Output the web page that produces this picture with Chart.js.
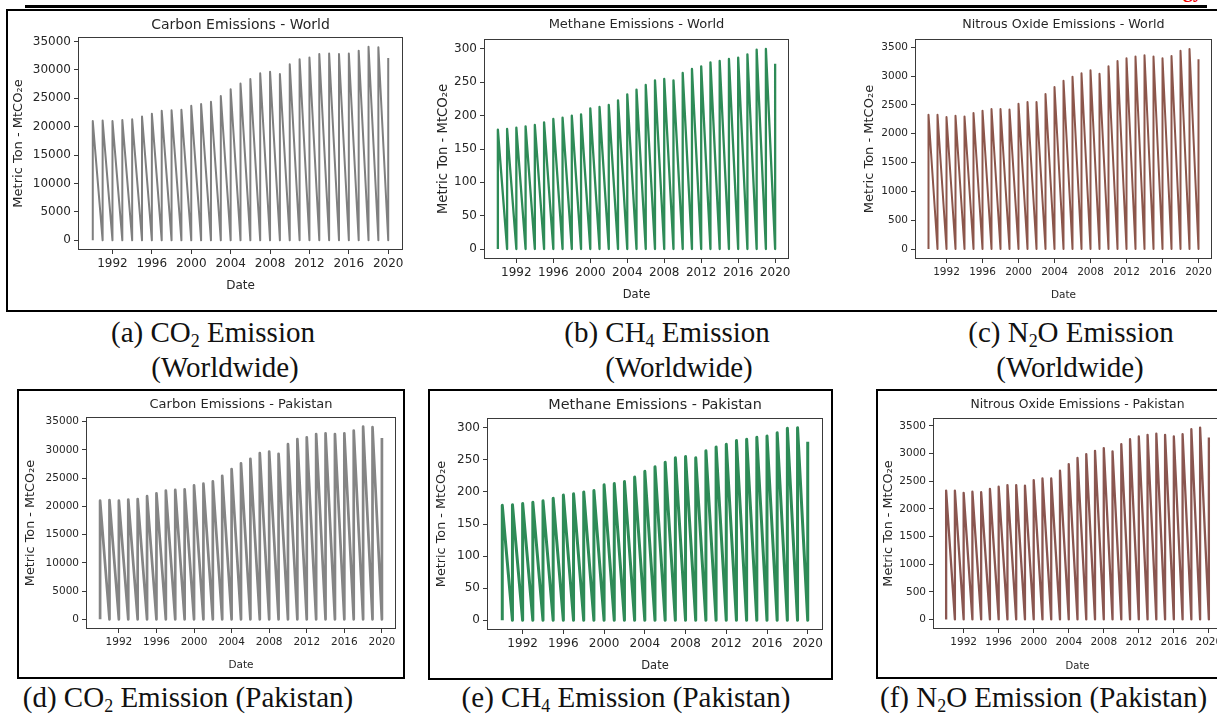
<!DOCTYPE html>
<html>
<head>
<meta charset="utf-8">
<script src="https://cdn.jsdelivr.net/npm/chart.js"></script>
<style>
  body { margin: 0; width: 1217px; height: 716px; overflow: hidden; background: #fff; position: relative; }
  .box { position: absolute; border: 2px solid #000; box-sizing: border-box; }
  .rule { position: absolute; background: #000; }
  canvas { position: absolute; }
  .cap { position: absolute; font-family: "Liberation Serif", serif; font-size: 29px; line-height: 29px; color: #111; white-space: nowrap; }
  .cap.c { width: 420px; text-align: center; }
  .cap sub { font-size: 0.62em; vertical-align: -0.28em; line-height: 0; }
  .head { position: absolute; right: 14px; top: -20px; font-family: "Liberation Serif", serif; font-weight: bold; font-size: 20px; line-height: 20px; color: #e00; }
</style>
</head>
<body>
<div class="head">Technology</div>
<div class="rule" style="left:25px; top:5px; width:1182px; height:3px;"></div>
<div class="box" style="left:6px; top:9px; width:1230px; height:303px;"></div>
<div class="box" style="left:17px; top:389px; width:388px; height:290px;"></div>
<div class="box" style="left:428px; top:389px; width:405px; height:291px;"></div>
<div class="box" style="left:876px; top:389px; width:360px; height:290px;"></div>

<div class="cap c" style="left:3px; top:318px;">(a) CO<sub>2</sub> Emission</div>
<div class="cap c" style="left:15px; top:353px;">(Worldwide)</div>
<div class="cap c" style="left:457px; top:318px;">(b) CH<sub>4</sub> Emission</div>
<div class="cap c" style="left:469px; top:353px;">(Worldwide)</div>
<div class="cap c" style="left:861px; top:318px;">(c) N<sub>2</sub>O Emission</div>
<div class="cap c" style="left:860px; top:353px;">(Worldwide)</div>
<div class="cap c" style="left:-22px; top:683px;">(d) CO<sub>2</sub> Emission (Pakistan)</div>
<div class="cap c" style="left:416px; top:683px;">(e) CH<sub>4</sub> Emission (Pakistan)</div>
<div class="cap" style="left:880px; top:683px;">(f) N<sub>2</sub>O Emission (Pakistan)</div>

<canvas id="co2World"></canvas>
<canvas id="ch4World"></canvas>
<canvas id="n2oWorld"></canvas>
<canvas id="co2Pak"></canvas>
<canvas id="ch4Pak"></canvas>
<canvas id="n2oPak"></canvas>

<script>
const years = [1990, 1991, 1992, 1993, 1994, 1995, 1996, 1997, 1998, 1999, 2000,
  2001, 2002, 2003, 2004, 2005, 2006, 2007, 2008, 2009, 2010,
  2011, 2012, 2013, 2014, 2015, 2016, 2017, 2018, 2019, 2020];

const co2World = [21000, 21100, 21000, 21200, 21300, 21800, 22300, 22800, 22900, 23000, 23700,
  24000, 24400, 25400, 26600, 27600, 28400, 29400, 29700, 29300, 31000,
  31900, 32200, 32800, 32900, 32800, 32900, 33400, 34100, 34000, 32100];
const ch4World = [179, 180, 182, 184, 186, 190, 195, 197, 200, 202, 211,
  213, 216, 223, 232, 239, 246, 253, 255, 253, 264,
  270, 274, 280, 282, 285, 287, 292, 299, 300, 278];
const n2oWorld = [2330, 2330, 2290, 2310, 2300, 2360, 2400, 2430, 2430, 2420, 2520,
  2550, 2550, 2690, 2810, 2920, 2990, 3050, 3100, 3040, 3170,
  3260, 3310, 3340, 3360, 3340, 3310, 3350, 3440, 3470, 3290];

const co2Pakistan = [21000, 21100, 21000, 21200, 21300, 21800, 22300, 22800, 22900, 23000, 23700,
  24000, 24400, 25400, 26600, 27600, 28400, 29400, 29700, 29300, 31000,
  31900, 32200, 32800, 32900, 32800, 32900, 33400, 34100, 34000, 32100];
const ch4Pakistan = [179, 180, 182, 184, 186, 190, 195, 197, 200, 202, 211,
  213, 216, 223, 232, 239, 246, 253, 255, 253, 264,
  270, 274, 280, 282, 285, 287, 292, 299, 300, 278];
const n2oPakistan = [2330, 2330, 2290, 2310, 2300, 2360, 2400, 2430, 2430, 2420, 2520,
  2550, 2550, 2690, 2810, 2920, 2990, 3050, 3100, 3040, 3170,
  3260, 3310, 3340, 3360, 3340, 3310, 3350, 3440, 3470, 3290];

const yearTicks = [1992, 1996, 2000, 2004, 2008, 2012, 2016, 2020];
const co2Ticks = [0, 5000, 10000, 15000, 20000, 25000, 30000, 35000];
const ch4Ticks = [0, 50, 100, 150, 200, 250, 300];
const n2oTicks = [0, 500, 1000, 1500, 2000, 2500, 3000, 3500];

const TXT = "#262626";
const SPINE = "#3a3a3a";

// each year: a zero row and a total row on the same date -> sawtooth
function sawtooth(vals) {
  return years.flatMap((yr, i) => [{ x: yr, y: 0 }, { x: yr, y: vals[i] }]);
}

const frame = {
  id: "frame",
  afterDraw(chart) {
    const a = chart.chartArea, ctx = chart.ctx;
    ctx.save();
    ctx.strokeStyle = SPINE;
    ctx.lineWidth = 1;
    ctx.strokeRect(Math.round(a.left) + 0.5, Math.round(a.top) + 0.5,
      Math.round(a.right - a.left) - 1, Math.round(a.bottom - a.top) - 1);
    ctx.restore();
  }
};

function makeChart(id, o) {
  const el = document.getElementById(id);
  const cl = Math.round(o.ylabelX - 4 - o.fonts.ylabel * 0.6);
  const ct = o.plot.t - 32;
  const w = o.plot.r - cl + 15;
  const h = o.plot.b - ct + 45;
  el.width = w; el.height = h;
  el.style.left = cl + "px"; el.style.top = ct + "px";
  el.style.width = w + "px"; el.style.height = h + "px";
  const tl = o.fonts.title * 1.2;
  const padTop = o.titleY - ct - tl / 2;
  const maxV = Math.max(...o.values);
  const tickGrid = { display: true, drawOnChartArea: false, drawTicks: true, tickLength: 4, color: SPINE, lineWidth: 1 };

  new Chart(el, {
    type: "line",
    data: {
      datasets: [{
        data: sawtooth(o.values),
        borderColor: o.color,
        borderWidth: o.lw,
        pointRadius: 0,
        tension: 0,
        borderJoinStyle: "round",
      }],
    },
    options: {
      responsive: false,
      animation: false,
      devicePixelRatio: 1,
      layout: { padding: { left: 0, right: 15, top: 0, bottom: 0 } },
      plugins: {
        legend: { display: false },
        tooltip: { enabled: false },
        title: {
          display: true,
          text: o.title,
          fullSize: false,
          color: TXT,
          font: { family: "DejaVu Sans", size: o.fonts.title, weight: "normal" },
          padding: { top: padTop, bottom: 32 - tl - padTop },
        },
      },
      scales: {
        x: {
          type: "linear",
          min: 1988.5,
          max: 2021.5,
          afterBuildTicks: (s) => { s.ticks = yearTicks.map((v) => ({ value: v })); },
          afterFit: (s) => { s.height = 45; },
          grid: tickGrid,
          border: { display: false },
          ticks: {
            color: TXT,
            padding: 3,
            maxRotation: 0,
            autoSkip: false,
            font: { family: "DejaVu Sans", size: o.fonts.tick },
            callback: (v) => String(v),
          },
          title: {
            display: true,
            text: "Date",
            color: TXT,
            font: { family: "DejaVu Sans", size: o.fonts.label },
            padding: { top: 4, bottom: 2 },
          },
        },
        y: {
          min: -0.05 * maxV,
          max: 1.05 * maxV,
          afterBuildTicks: (s) => { s.ticks = o.ticks.map((v) => ({ value: v })); },
          afterFit: (s) => { s.width = o.plot.l - cl; },
          grid: tickGrid,
          border: { display: false },
          ticks: {
            color: TXT,
            padding: 3,
            autoSkip: false,
            font: { family: "DejaVu Sans", size: o.fonts.tick },
            callback: (v) => String(v),
          },
          title: {
            display: true,
            text: "Metric Ton - MtCO₂e",
            color: TXT,
            font: { family: "DejaVu Sans", size: o.fonts.ylabel },
            padding: { top: 4, bottom: 2 },
          },
        },
      },
    },
    plugins: [frame],
  });
}

makeChart("co2World", {
  title: "Carbon Emissions - World", values: co2World, ticks: co2Ticks,
  color: "#7f7f7f", lw: 2, plot: { l: 78, t: 37, r: 403, b: 250 }, titleY: 25, ylabelX: 19,
  fonts: { title: 14, tick: 12, label: 12, ylabel: 13 },
});
makeChart("ch4World", {
  title: "Methane Emissions - World", values: ch4World, ticks: ch4Ticks,
  color: "#2e8b57", lw: 2.3, plot: { l: 484, t: 39, r: 789, b: 259 }, titleY: 25, ylabelX: 444,
  fonts: { title: 13, tick: 12, label: 11.5, ylabel: 13.2 },
});
makeChart("n2oWorld", {
  title: "Nitrous Oxide Emissions - World", values: n2oWorld, ticks: n2oTicks,
  color: "#8c564b", lw: 2, plot: { l: 915, t: 39, r: 1212, b: 259 }, titleY: 25, ylabelX: 870,
  fonts: { title: 12.7, tick: 10.5, label: 10.5, ylabel: 13 },
});
makeChart("co2Pak", {
  title: "Carbon Emissions - Pakistan", values: co2Pakistan, ticks: co2Ticks,
  color: "#858585", lw: 2.7, plot: { l: 86, t: 417, r: 396, b: 629 }, titleY: 405, ylabelX: 31,
  fonts: { title: 13, tick: 10.5, label: 10.5, ylabel: 12.8 },
});
makeChart("ch4Pak", {
  title: "Methane Emissions - Pakistan", values: ch4Pakistan, ticks: ch4Ticks,
  color: "#2e8b57", lw: 3, plot: { l: 487, t: 418, r: 823, b: 630 }, titleY: 405, ylabelX: 442,
  fonts: { title: 14.4, tick: 12, label: 11.5, ylabel: 12.8 },
});
makeChart("n2oPak", {
  title: "Nitrous Oxide Emissions - Pakistan", values: n2oPakistan, ticks: n2oTicks,
  color: "#8a5650", lw: 2.3, plot: { l: 933, t: 418, r: 1222, b: 629 }, titleY: 405, ylabelX: 889,
  fonts: { title: 12.4, tick: 10.5, label: 10, ylabel: 12.8 },
});
</script>
</body>
</html>
